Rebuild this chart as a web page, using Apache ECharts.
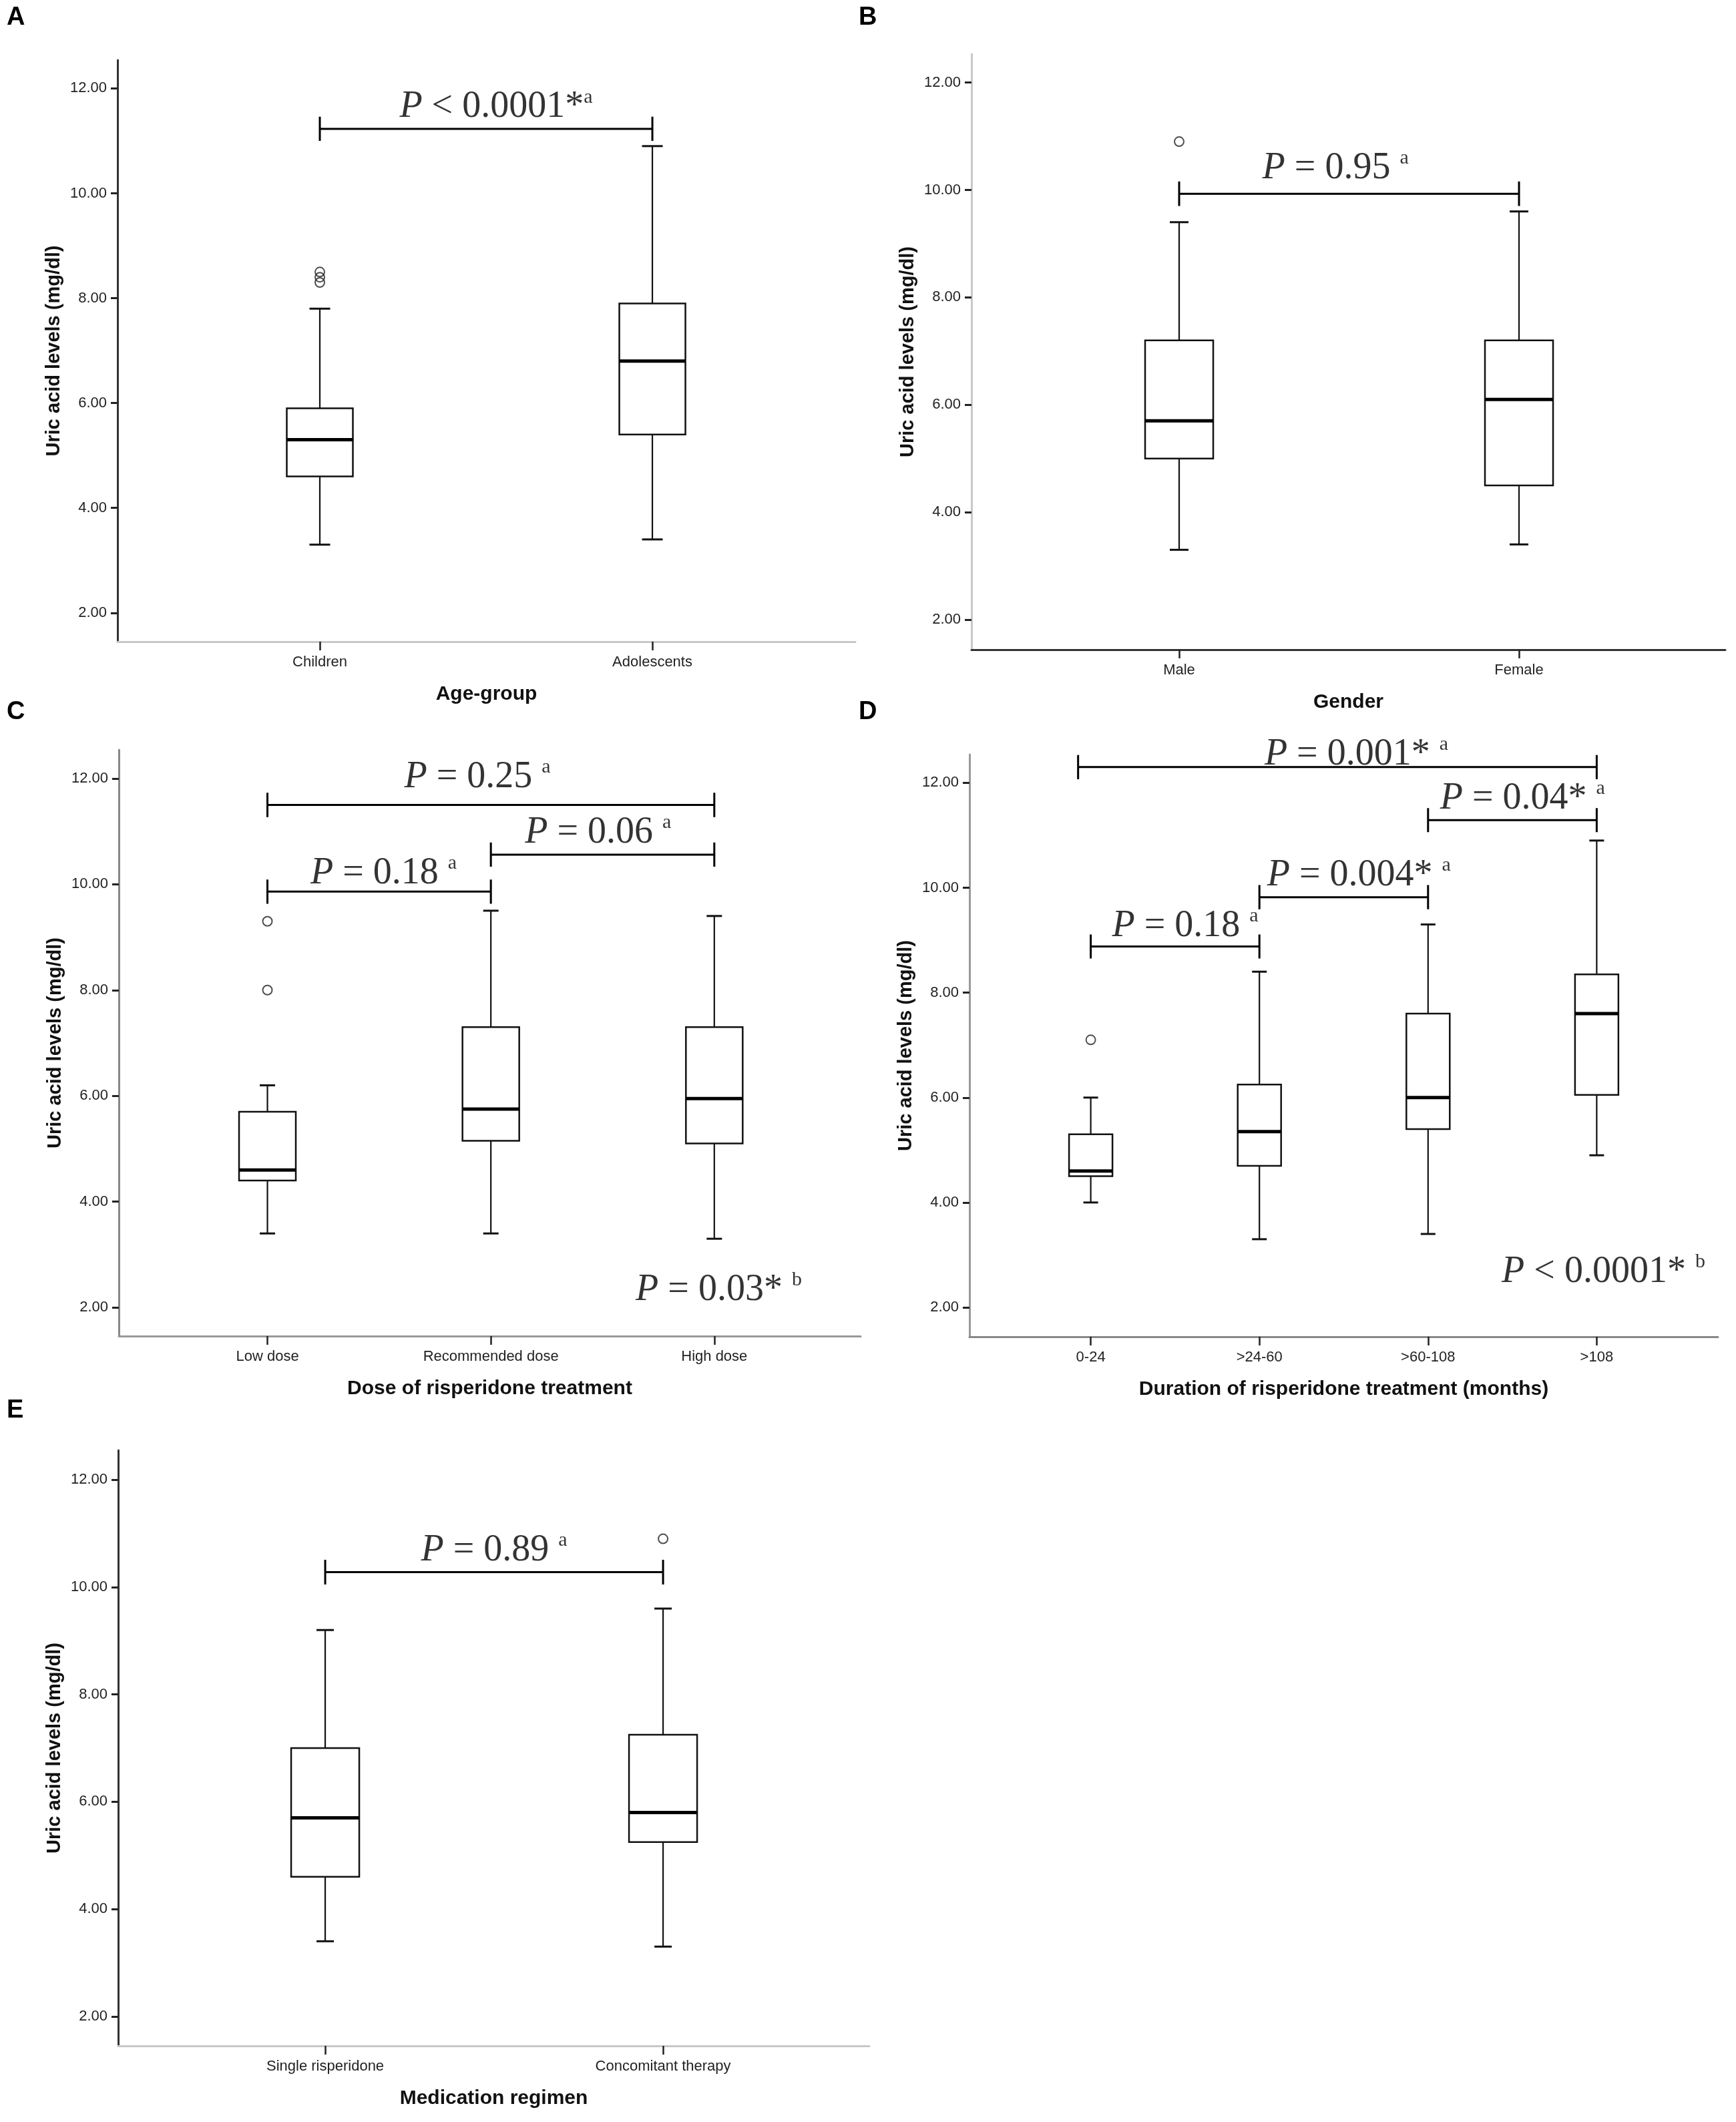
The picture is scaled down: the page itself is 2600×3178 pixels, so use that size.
<!DOCTYPE html>
<html>
<head>
<meta charset="utf-8">
<script src="https://cdn.jsdelivr.net/npm/echarts@6/dist/echarts.min.js"></script>
<style>
html,body{margin:0;padding:0;background:#fff;}
#chart{width:2600px;height:3178px;}
</style>
</head>
<body>
<div id="chart"></div>
<script>
// ---------------- DATA ----------------
// box stats: [min, Q1, median, Q3, max]
const catsA = ['Children', 'Adolescents'];
const boxesA = [[3.3, 4.6, 5.3, 5.9, 7.8], [3.4, 5.4, 6.8, 7.9, 10.9]];
const outliersA = [[1, 8.3], [1, 8.4], [1, 8.5]];
const bracketsA = [[1, 2, 11.23]];
const pTextsA = [[1.53, 11.64, ' < 0.0001*', 'a']];

const catsB = ['Male', 'Female'];
const boxesB = [[3.3, 5.0, 5.7, 7.2, 9.4], [3.4, 4.5, 6.1, 7.2, 9.6]];
const outliersB = [[1, 10.9]];
const bracketsB = [[1, 2, 9.93]];
const pTextsB = [[1.46, 10.40, ' = 0.95 ', 'a']];

const catsC = ['Low dose', 'Recommended dose', 'High dose'];
const boxesC = [[3.4, 4.4, 4.6, 5.7, 6.2], [3.4, 5.15, 5.75, 7.3, 9.5], [3.3, 5.1, 5.95, 7.3, 9.4]];
const outliersC = [[1, 8.0], [1, 9.3]];
const bracketsC = [[1, 3, 11.5], [2, 3, 10.56], [1, 2, 9.86]];
const pTextsC = [[1.94, 12.02, ' = 0.25 ', 'a'], [2.48, 10.97, ' = 0.06 ', 'a'], [1.52, 10.2, ' = 0.18 ', 'a'], [3.02, 2.33, ' = 0.03* ', 'b']];

const catsD = ['0-24', '>24-60', '>60-108', '>108'];
const boxesD = [[4.0, 4.5, 4.6, 5.3, 6.0], [3.3, 4.7, 5.35, 6.25, 8.4], [3.4, 5.4, 6.0, 7.6, 9.3], [4.9, 6.05, 7.6, 8.35, 10.9]];
const outliersD = [[1, 7.1]];
const bracketsD = [[0.925, 4, 12.3], [3, 4, 11.29], [2, 3, 9.82], [1, 2, 8.88]];
const pTextsD = [[2.575, 12.54, ' = 0.001* ', 'a'], [3.56, 11.70, ' = 0.04* ', 'a'], [2.59, 10.23, ' = 0.004* ', 'a'], [1.56, 9.27, ' = 0.18 ', 'a'], [4.04, 2.67, ' < 0.0001* ', 'b']];

const catsE = ['Single risperidone', 'Concomitant therapy'];
const boxesE = [[3.4, 4.6, 5.7, 7.0, 9.2], [3.3, 5.25, 5.8, 7.25, 9.6]];
const outliersE = [[2, 10.9]];
const bracketsE = [[1, 2, 10.28]];
const pTextsE = [[1.50, 10.68, ' = 0.89 ', 'a']];

const yTicks = [2, 4, 6, 8, 10, 12];
const yTitle = 'Uric acid levels (mg/dl)';
const xTitles = ['Age-group', 'Gender', 'Dose of risperidone treatment', 'Duration of risperidone treatment (months)', 'Medication regimen'];
const panelLetters = ['A', 'B', 'C', 'D', 'E'];

// ---------------- LAYOUT ----------------
const layouts = [
  {grid: {left: 176, top: 90, width: 1105, height: 871}, xr: [0.3916, 2.6103], yr: [1.45, 12.54], boxW: 99, capW: 31, yCol: '#333', xCol: '#c8c8c8', letter: [10, 28]},
  {grid: {left: 1455, top: 81, width: 1129, height: 892}, xr: [0.389, 2.607], yr: [1.44, 12.53], boxW: 102, capW: 28, yCol: '#c8c8c8', xCol: '#333', letter: [1286, 28]},
  {grid: {left: 178, top: 1123, width: 1111, height: 878}, xr: [0.335, 3.655], yr: [1.46, 12.54], boxW: 85, capW: 23, yCol: '#888', xCol: '#999', letter: [10, 1068]},
  {grid: {left: 1452, top: 1130, width: 1121, height: 872}, xr: [0.281, 4.719], yr: [1.44, 12.54], boxW: 65, capW: 22, yCol: '#999', xCol: '#888', letter: [1286, 1068]},
  {grid: {left: 177, top: 2172, width: 1125, height: 892}, xr: [0.3873, 2.6105], yr: [1.45, 12.55], boxW: 102, capW: 26, yCol: '#333', xCol: '#c8c8c8', letter: [10, 2114]}
];

const panels = [
  {cats: catsA, boxes: boxesA, outliers: outliersA, brackets: bracketsA, texts: pTextsA},
  {cats: catsB, boxes: boxesB, outliers: outliersB, brackets: bracketsB, texts: pTextsB},
  {cats: catsC, boxes: boxesC, outliers: outliersC, brackets: bracketsC, texts: pTextsC},
  {cats: catsD, boxes: boxesD, outliers: outliersD, brackets: bracketsD, texts: pTextsD},
  {cats: catsE, boxes: boxesE, outliers: outliersE, brackets: bracketsE, texts: pTextsE}
];

const SANS = 'Liberation Sans, Arial, sans-serif';
const SERIF = 'Liberation Serif, Times New Roman, serif';
const INK = '#000';

function boxRenderer(boxW, capW) {
  return function (params, api) {
    const x = api.value(0);
    const pMin = api.coord([x, api.value(1)]);
    const pQ1 = api.coord([x, api.value(2)]);
    const pMed = api.coord([x, api.value(3)]);
    const pQ3 = api.coord([x, api.value(4)]);
    const pMax = api.coord([x, api.value(5)]);
    const cx = pMin[0];
    const h = boxW / 2, c = capW / 2;
    const ls = {stroke: '#111', lineWidth: 2.2};
    return {
      type: 'group',
      children: [
        {type: 'line', shape: {x1: cx, y1: pMin[1], x2: cx, y2: pQ1[1]}, style: ls},
        {type: 'line', shape: {x1: cx, y1: pQ3[1], x2: cx, y2: pMax[1]}, style: ls},
        {type: 'line', shape: {x1: cx - c, y1: pMin[1], x2: cx + c, y2: pMin[1]}, style: {stroke: '#111', lineWidth: 3}},
        {type: 'line', shape: {x1: cx - c, y1: pMax[1], x2: cx + c, y2: pMax[1]}, style: {stroke: '#111', lineWidth: 3}},
        {type: 'rect', shape: {x: cx - h, y: pQ3[1], width: boxW, height: pQ1[1] - pQ3[1]}, style: {fill: '#fff', stroke: '#111', lineWidth: 2.5}},
        {type: 'line', shape: {x1: cx - h, y1: pMed[1], x2: cx + h, y2: pMed[1]}, style: {stroke: INK, lineWidth: 5}}
      ]
    };
  };
}

const grids = [], xAxes = [], yAxes = [], series = [], graphics = [];

panels.forEach(function (p, i) {
  const L = layouts[i];
  grids.push(Object.assign({containLabel: false}, L.grid));
  const catIdx = p.cats.map(function (_, k) { return k + 1; });
  xAxes.push({
    gridIndex: i, type: 'value', min: L.xr[0], max: L.xr[1],
    axisLine: {show: true, onZero: false, lineStyle: {color: L.xCol, width: 3}},
    axisTick: {show: true, customValues: catIdx, length: 13, lineStyle: {color: '#222', width: 2.5}},
    axisLabel: {
      customValues: catIdx, margin: 20, fontSize: 22, fontFamily: SANS, color: '#222',
      formatter: function (v) { return p.cats[Math.round(v) - 1] || ''; }
    },
    splitLine: {show: false},
    name: xTitles[i], nameLocation: 'middle', nameGap: 64,
    nameTextStyle: {fontSize: 30, fontWeight: 'bold', fontFamily: SANS, color: '#111'}
  });
  yAxes.push({
    gridIndex: i, type: 'value', min: L.yr[0], max: L.yr[1],
    axisLine: {show: true, onZero: false, lineStyle: {color: L.yCol, width: 3}},
    axisTick: {show: true, customValues: yTicks, length: 10, lineStyle: {color: '#222', width: 3}},
    axisLabel: {
      customValues: yTicks, margin: 16, fontSize: 22, fontFamily: SANS, color: '#222',
      formatter: function (v) { return Number(v).toFixed(2); }
    },
    splitLine: {show: false},
    name: yTitle, nameLocation: 'middle', nameGap: 81, nameRotate: 90,
    nameTextStyle: {fontSize: 29, fontWeight: 'bold', fontFamily: SANS, color: '#111'}
  });

  // boxes
  series.push({
    type: 'custom', xAxisIndex: i, yAxisIndex: i, silent: true,
    renderItem: boxRenderer(L.boxW, L.capW),
    encode: {x: 0, y: [1, 2, 3, 4, 5]},
    data: p.boxes.map(function (b, k) { return [k + 1].concat(b); }),
    clip: false, z: 2
  });
  // outliers
  series.push({
    type: 'scatter', xAxisIndex: i, yAxisIndex: i, silent: true,
    symbol: 'circle', symbolSize: 14,
    itemStyle: {color: 'rgba(255,255,255,0)', borderColor: '#222', borderWidth: 2},
    data: p.outliers, clip: false, z: 3
  });
  // brackets
  p.brackets.forEach(function (br) {
    const d = 0.23;
    series.push({
      type: 'line', xAxisIndex: i, yAxisIndex: i, silent: true,
      symbol: 'none', clip: false, z: 3,
      lineStyle: {color: INK, width: 3},
      data: [[br[0], br[2] + d], [br[0], br[2] - d], [br[0], br[2]], [br[1], br[2]], [br[1], br[2] + d], [br[1], br[2] - d]]
    });
  });
  // p-value texts
  series.push({
    type: 'scatter', xAxisIndex: i, yAxisIndex: i, silent: true,
    symbolSize: 1, itemStyle: {color: 'rgba(0,0,0,0)'}, clip: false, z: 4,
    data: p.texts.map(function (t) { return {value: [t[0], t[1]], rel: t[2], sup: t[3]}; }),
    label: {
      show: true, position: 'inside', align: 'center', verticalAlign: 'middle',
      formatter: function (params) { return '{p|P}{n|' + params.data.rel + '}{s|' + params.data.sup + '}'; },
      rich: {
        p: {fontFamily: SERIF, fontStyle: 'italic', fontSize: 56, color: INK, lineHeight: 60},
        n: {fontFamily: SERIF, fontSize: 56, color: INK, lineHeight: 60},
        s: {fontFamily: SERIF, fontSize: 30, color: INK, verticalAlign: 'top', lineHeight: 40}
      }
    }
  });

  graphics.push({
    type: 'text', left: L.letter[0], top: L.letter[1] - 20,
    style: {text: panelLetters[i], font: 'bold 38px ' + SANS, fill: '#000'}
  });
});

const chart = echarts.init(document.getElementById('chart'), null, {renderer: 'canvas'});
chart.setOption({
  backgroundColor: '#fff',
  animation: false,
  grid: grids,
  xAxis: xAxes,
  yAxis: yAxes,
  series: series,
  graphic: graphics
});
</script>
</body>
</html>
